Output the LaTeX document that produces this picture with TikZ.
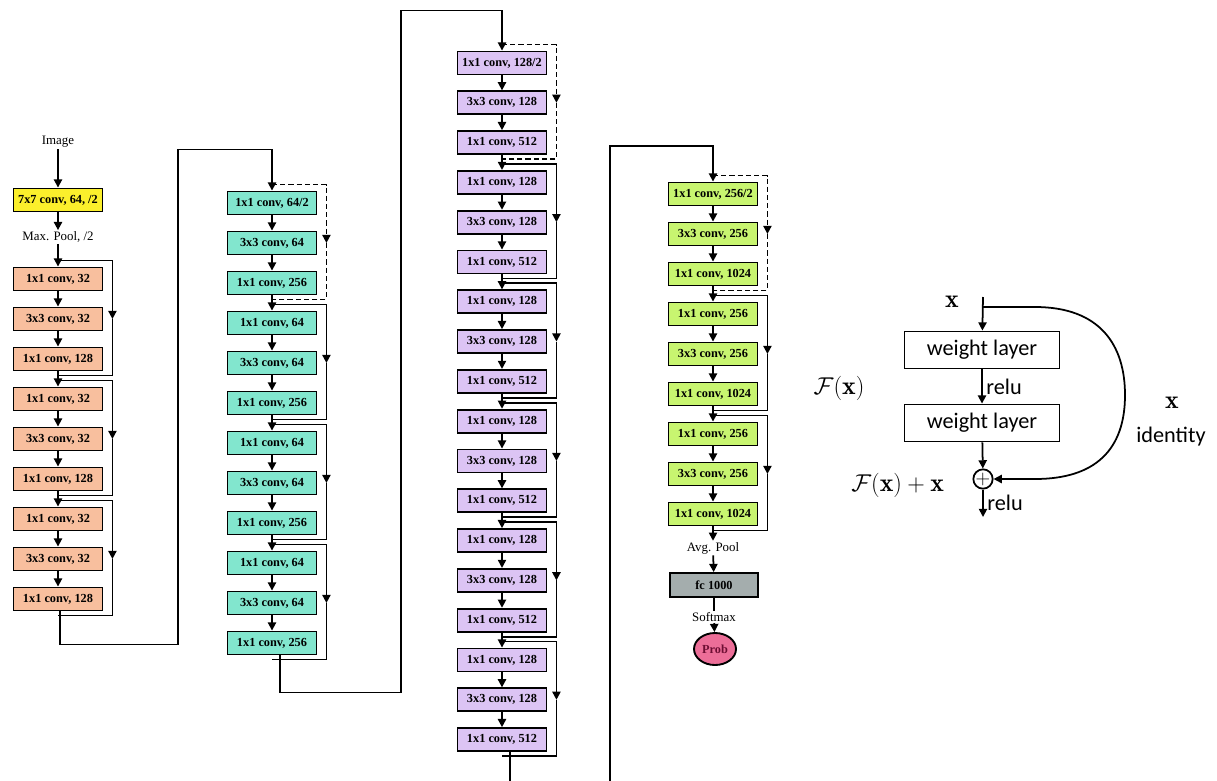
\documentclass[tikz,border=0pt]{standalone}
\usepackage{amsmath}
\usepackage{fontspec}
\usetikzlibrary{arrows.meta,calc,shapes.geometric}
\newfontfamily\boxfont{Liberation Serif}
\newfontfamily\blockfont{Carlito}
\definecolor{stemyellow}{HTML}{FBEF2C}
\definecolor{convsalmon}{HTML}{F8BF9E}
\definecolor{convaqua}{HTML}{82E6CE}
\definecolor{convlilac}{HTML}{DCC4F4}
\definecolor{convlime}{HTML}{C8F570}
\definecolor{fcgray}{HTML}{A4ADAD}
\definecolor{probrose}{HTML}{EC6E98}
\definecolor{probwine}{HTML}{6E0E33}

\begin{document}
\begin{tikzpicture}[
  x=0.03cm, y=-0.03cm,
  box/.style={draw, line width=1.6pt, minimum width=2.67cm, minimum height=0.69cm, inner sep=0pt, font=\boxfont\bfseries\fontsize{10.5}{12}\selectfont},
  cstem/.style={box, fill=stemyellow},
  ctwo/.style={box, fill=convsalmon},
  cthree/.style={box, fill=convaqua},
  cfour/.style={box, fill=convlilac},
  cfive/.style={box, fill=convlime},
  cfc/.style={box, fill=fcgray, minimum width=2.64cm, minimum height=0.72cm},
  prob/.style={ellipse, draw, line width=1.6pt, fill=probrose, minimum width=1.26cm, minimum height=0.96cm, inner sep=0pt, text=probwine, font=\boxfont\bfseries\fontsize{10.5}{12}\selectfont},
  lbl/.style={font=\boxfont\fontsize{11}{13}\selectfont, inner sep=1pt},
  wire/.style={line width=1.5pt},
  arr/.style={wire, -{Triangle[length=7pt, width=7pt]}},
  skip/.style={wire},
  skipd/.style={wire, dash pattern=on 4.5pt off 2.5pt},
  tip/.style={-{Triangle[length=7pt, width=7pt]}},
  wbox/.style={draw, line width=1.6pt, minimum width=4.65cm, minimum height=1.11cm, font=\blockfont\fontsize{19}{22}\selectfont},
  sans/.style={font=\blockfont\fontsize{19}{22}\selectfont},
  mlbl/.style={font=\fontsize{22}{24}\selectfont}
]
\useasboundingbox (0,0) rectangle (1217,780);
\clip (0,0) rectangle (1217,780);

% stem
\node[lbl]   (img)  at (58,142) {Image};
\node[cstem] (c1)   at (58,200) {7x7 conv, 64, /2};
\node[lbl]   (pool) at (58,237) {Max. Pool, /2};

% conv2_x, orange
\foreach \b in {0,1,2}
  \foreach \l/\t in {1/{1x1 conv, 32}, 2/{3x3 conv, 32}, 3/{1x1 conv, 128}} {
    \pgfmathtruncatemacro\k{3*\b+\l}
    \node[ctwo] (o\k) at (58,{279+40*(\k-1)}) {\t};
  }
% conv3_x, aqua
\foreach \b in {0,...,3}
  \foreach \l/\t in {1/{1x1 conv, 64}, 2/{3x3 conv, 64}, 3/{1x1 conv, 256}} {
    \pgfmathtruncatemacro\k{3*\b+\l}
    \node[cthree] (t\k) at (272,{203+40*(\k-1)}) {\t\ifnum\k=1 /2\fi};
  }
% conv4_x, lilac
\foreach \b in {0,...,5}
  \foreach \l/\t in {1/{1x1 conv, 128}, 2/{3x3 conv, 128}, 3/{1x1 conv, 512}} {
    \pgfmathtruncatemacro\k{3*\b+\l}
    \node[cfour] (p\k) at (502,{63+39.8*(\k-1)}) {\t\ifnum\k=1 /2\fi};
  }
% conv5_x, lime
\foreach \b in {0,1,2}
  \foreach \l/\t in {1/{1x1 conv, 256}, 2/{3x3 conv, 256}, 3/{1x1 conv, 1024}} {
    \pgfmathtruncatemacro\k{3*\b+\l}
    \node[cfive] (g\k) at (713,{194+40*(\k-1)}) {\t\ifnum\k=1 /2\fi};
  }

% head
\node[lbl]  (avg)  at (713,548) {Avg. Pool};
\node[cfc]  (fc)   at (714,585) {fc 1000};
\node[lbl]  (smax) at (714,617) {Softmax};
\node[prob] (out)  at (715,649) {Prob};

% main flow
\draw[arr] (img) -- (c1);
\draw[arr] (c1) -- (pool);
\draw[arr] (pool) -- (o1);
\foreach \i [evaluate=\i as \j using int(\i+1)] in {1,...,8} \draw[arr] (o\i) -- (o\j);
\foreach \i [evaluate=\i as \j using int(\i+1)] in {1,...,11} \draw[arr] (t\i) -- (t\j);
\foreach \i [evaluate=\i as \j using int(\i+1)] in {1,...,17} \draw[arr] (p\i) -- (p\j);
\foreach \i [evaluate=\i as \j using int(\i+1)] in {1,...,8} \draw[arr] (g\i) -- (g\j);
\draw[arr] (g9) -- (avg);
\draw[arr] (avg) -- (fc);
\draw[wire] (fc) -- (smax);
\draw[arr] (smax) -- (out);

% stage to stage
\draw[arr] ([shift={(2,0)}]o9.south) -- ++(0,33) -- ++(118,0) -- ++(0,-495) -| (t1.north);
\draw[arr] ([shift={(8,0)}]t12.south) -- ++(0,37) -- ++(121,0) -- ++(0,-682) -| (p1.north);
\draw[arr] ([shift={(8,0)}]p18.south) -- ++(0,60) -- ++(100,0) -- ++(0,-666) -| (g1.north);

% shortcuts
\foreach \s/\a/\st in {o/1/skip, o/4/skip, o/7/skip,
    t/1/skipd, t/4/skip, t/7/skip, t/10/skip,
    p/1/skipd, p/4/skip, p/7/skip, p/10/skip, p/13/skip, p/16/skip,
    g/1/skipd, g/4/skip, g/7/skip} {
  \pgfmathtruncatemacro\c{\a+2}
  \coordinate (m) at ($(\s\a.east)!.5!(\s\c.east)+(9,0)$);
  \draw[\st, tip] ([shift={(0,-6)}]\s\a.north) -| (m);
  \draw[\st] (m) |- ([shift={(0,4)}]\s\c.south);
}

% residual block
\coordinate (xin) at (983,297);
\coordinate (fork) at (983,307);
\node[mlbl] (xtop) at (952,302) {$\mathbf{x}$};
\node[wbox] (w1) at (982,350) {weight layer};
\node[wbox] (w2) at (982,423) {weight layer};
\node[circle, draw, line width=1.5pt, minimum size=0.58cm, inner sep=0pt, font=\fontsize{18}{18}\selectfont] (add) at (983,479) {$+$};
\coordinate (yout) at (983,517);
\node[mlbl] (fx) at (839,388) {$\mathcal{F}(\mathbf{x})$};
\node[mlbl, anchor=east] (fxx) at (948,485) {$\mathcal{F}(\mathbf{x}) + \mathbf{x}$};
\node[mlbl] (xid) at (1172,403) {$\mathbf{x}$};
\node[sans] (ident) at (1171,437) {identity};

\draw[arr] (xin) -- (w1);
\draw[arr] (w1) -- node[sans, right, inner sep=3pt]{relu} (w2);
\draw[arr] (w2) -- (add);
\draw[arr] (add) -- node[sans, right, inner sep=3pt]{relu} (yout);
\draw[arr] (fork) -- (1035,307) .. controls (1100,307) and (1125,345) .. (1125,395)
  .. controls (1125,450) and (1095,479) .. (1035,479) -- (add.east);
\end{tikzpicture}
\end{document}
